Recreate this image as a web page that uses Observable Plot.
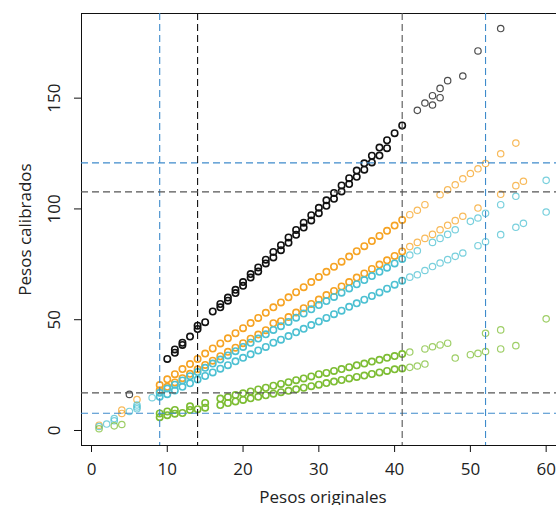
<!DOCTYPE html>
<html><head><meta charset="utf-8">
<script src="https://cdn.jsdelivr.net/npm/d3@7"></script>
<script src="https://cdn.jsdelivr.net/npm/@observablehq/plot@0.6"></script>
<style>
html,body{margin:0;padding:0;background:#fff;overflow:hidden;}
#chart{width:556px;height:505px;overflow:hidden;}
#chart svg{max-width:none !important;width:564px !important;height:505px !important;}
</style></head><body><div id="chart"></div>
<script>
// ---- axis ticks & titles
const xTicks = [0, 10, 20, 30, 40, 50, 60];
const yTicks = [0, 50, 100, 150];
const xTitle = "Pesos originales";
const yTitle = "Pesos calibrados";

// ---- reference lines (dashed)
const vLines = [9, 14, 41, 52];
const vKinds = ["azul", "negro", "gris", "azul"];
const hLines = [7.8, 17.0, 107.7, 120.8];
const hKinds = ["azul", "gris", "gris", "azul"];

// ---- series
const negroAX = [5, 10, 11, 12, 13, 14, 15, 16, 17, 18, 19, 20, 21, 22, 23, 24, 25, 26, 27, 28, 29, 30, 31, 32, 33, 34, 35, 36, 37, 38, 39, 40, 41, 43, 44, 45, 46, 47, 49, 51, 54];
const negroAY = [16.3, 32.3, 36.6, 39.6, 42.4, 47.3, 48.9, 53.7, 57.1, 60.0, 63.5, 67.0, 70.6, 73.6, 77.1, 80.6, 83.6, 87.1, 90.5, 93.8, 97.2, 100.5, 103.9, 107.2, 110.6, 113.9, 117.3, 120.6, 124.0, 127.7, 131.0, 134.2, 137.7, 144.5, 147.8, 151.1, 154.4, 157.9, 160.0, 171.3, 181.4];
const negroBX = [11, 12, 14, 17, 18, 19, 20, 21, 22, 23, 24, 25, 26, 27, 28, 29, 30, 31, 32, 33, 34, 35, 36, 37, 38, 39, 45, 46];
const negroBY = [35.1, 38.6, 45.8, 55.6, 58.6, 62.0, 65.3, 69.0, 71.8, 75.4, 78.1, 81.4, 84.7, 88.3, 91.6, 94.8, 98.1, 101.4, 104.6, 107.9, 111.2, 114.5, 117.7, 121.0, 124.1, 127.4, 146.9, 150.2];

const naranjaAX = [1, 4, 6, 9, 10, 11, 12, 13, 14, 15, 16, 17, 18, 19, 20, 21, 22, 23, 24, 25, 26, 27, 28, 29, 30, 31, 32, 33, 34, 35, 36, 37, 38, 39, 40, 41, 42, 43, 44, 46, 47, 48, 49, 50, 51, 52, 54, 56];
const naranjaAY = [2.4, 9.2, 14.0, 20.5, 23.1, 25.4, 27.7, 30.0, 32.3, 34.7, 37.0, 39.3, 41.6, 43.9, 46.2, 48.5, 50.8, 53.1, 55.6, 57.8, 60.1, 62.4, 64.7, 67.0, 69.3, 71.6, 73.9, 76.2, 78.5, 80.9, 83.2, 85.5, 87.8, 90.1, 92.5, 95.0, 97.4, 99.4, 101.9, 106.4, 108.6, 110.9, 113.6, 116.0, 118.1, 120.5, 124.9, 129.7];
const naranjaBX = [4, 9, 10, 11, 12, 13, 14, 15, 16, 17, 18, 19, 20, 21, 22, 23, 24, 25, 26, 27, 28, 29, 30, 31, 32, 33, 34, 35, 36, 37, 38, 39, 40, 41, 42, 43, 44, 45, 46, 47, 48, 49, 51, 54, 56, 57];
const naranjaBY = [7.7, 18.2, 19.7, 21.7, 23.6, 25.6, 27.6, 29.6, 31.5, 33.5, 35.5, 37.4, 39.4, 41.4, 43.3, 45.3, 48.4, 49.3, 51.2, 53.2, 55.2, 57.1, 59.1, 61.1, 63.0, 65.0, 67.0, 69.0, 70.9, 72.9, 74.9, 76.8, 78.8, 80.8, 83.0, 84.9, 86.7, 88.5, 90.6, 92.6, 94.7, 96.7, 100.4, 106.6, 110.5, 112.5];

const cianAX = [1, 2, 3, 6, 8, 9, 10, 11, 12, 13, 14, 15, 16, 17, 18, 19, 20, 21, 22, 23, 24, 25, 26, 27, 28, 29, 30, 31, 32, 33, 34, 35, 36, 37, 38, 39, 40, 41, 42, 43, 45, 46, 47, 48, 50, 51, 52, 54, 56, 60];
const cianAY = [1.8, 2.9, 5.4, 11.5, 14.8, 17.0, 18.9, 20.7, 22.6, 24.5, 26.4, 28.3, 30.2, 32.0, 33.9, 35.8, 37.7, 39.6, 41.5, 43.4, 45.4, 47.1, 49.0, 50.9, 52.8, 54.7, 56.6, 58.4, 60.3, 62.2, 64.1, 66.0, 67.9, 69.7, 71.6, 73.5, 75.4, 77.4, 79.2, 81.1, 84.9, 86.7, 88.5, 90.6, 94.4, 95.9, 98.0, 101.9, 105.7, 112.9];
const cianBX = [3, 5, 6, 6, 9, 10, 11, 12, 13, 14, 15, 16, 17, 18, 19, 20, 21, 22, 23, 24, 25, 26, 27, 28, 29, 30, 31, 32, 33, 34, 35, 36, 37, 38, 39, 40, 41, 42, 43, 44, 45, 46, 47, 48, 49, 51, 52, 54, 56, 57, 60];
const cianBY = [4.4, 8.6, 10.6, 9.8, 15.2, 16.4, 18.0, 19.7, 21.3, 23.0, 24.6, 26.2, 27.9, 29.5, 31.2, 32.8, 34.4, 36.1, 37.7, 39.6, 41.0, 42.6, 44.3, 45.9, 47.6, 49.2, 50.8, 52.5, 54.1, 55.8, 57.4, 59.0, 60.7, 62.3, 64.0, 65.8, 67.6, 69.2, 70.3, 72.2, 74.0, 75.6, 77.1, 78.6, 80.1, 83.4, 85.2, 88.4, 91.7, 93.5, 98.6];

const verdeAX = [9, 10, 11, 13, 15, 17, 18, 19, 20, 21, 22, 23, 24, 25, 26, 27, 28, 29, 30, 31, 32, 33, 34, 35, 36, 37, 38, 39, 40, 41, 42, 44, 45, 46, 47, 52, 54, 60];
const verdeAY = [7.7, 8.6, 9.3, 10.9, 12.4, 14.4, 15.1, 16.0, 16.8, 17.6, 18.5, 19.3, 20.2, 21.0, 21.8, 22.7, 23.5, 24.4, 25.4, 26.0, 26.9, 27.7, 28.6, 29.4, 30.2, 31.1, 31.9, 32.8, 33.6, 34.5, 35.4, 36.8, 37.8, 38.6, 39.4, 43.9, 45.4, 50.4];
const verdeBX = [1, 3, 4, 9, 10, 11, 12, 13, 14, 15, 17, 18, 19, 20, 21, 22, 23, 24, 25, 26, 27, 28, 29, 30, 31, 32, 33, 34, 35, 36, 37, 38, 39, 40, 41, 42, 43, 44, 48, 50, 51, 52, 54, 56];
const verdeBY = [0.8, 2.1, 2.7, 6.0, 6.9, 7.6, 7.9, 9.3, 9.6, 10.3, 11.5, 12.4, 13.1, 13.8, 14.5, 15.2, 15.9, 16.6, 17.3, 17.9, 18.6, 19.3, 20.0, 20.7, 21.4, 22.1, 22.8, 23.5, 24.2, 24.8, 25.5, 26.2, 26.9, 27.6, 28.0, 28.5, 29.1, 30.0, 32.7, 34.2, 34.8, 35.6, 36.8, 38.3];

const groupNames = ["negro", "naranja", "cian", "verde"];
const groupColors = ["#111111", "#f6a323", "#4cc0d2", "#7dbd33"];
const kindColors = {azul: "#3f8bcb", negro: "#111111", gris: "#555555"};

const seriesList = [
  {g: "negro", xs: negroAX, ys: negroAY}, {g: "negro", xs: negroBX, ys: negroBY},
  {g: "naranja", xs: naranjaAX, ys: naranjaAY}, {g: "naranja", xs: naranjaBX, ys: naranjaBY},
  {g: "cian", xs: cianAX, ys: cianAY}, {g: "cian", xs: cianBX, ys: cianBY},
  {g: "verde", xs: verdeAX, ys: verdeAY}, {g: "verde", xs: verdeBX, ys: verdeBY}
];
const rows = seriesList.flatMap(s => s.xs.map((x, i) => ({x, y: s.ys[i], g: s.g})));

const font = "Open Sans, Noto Sans, sans-serif";
const dash = "7,4";
const dense = d => d.x >= 9 && d.x <= 41;

const marks = [
  Plot.frame({stroke: "#111", strokeWidth: 1}),
  Plot.dot(rows, {x: "x", y: "y", r: 3.2, stroke: "g", fill: "none",
    strokeWidth: d => dense(d) ? 1.6 : 1.2,
    strokeOpacity: d => dense(d) ? 1 : 0.75}),
];
for (const k of Object.keys(kindColors)) {
  const hv = hLines.filter((v, i) => hKinds[i] === k);
  const vv = vLines.filter((v, i) => vKinds[i] === k);
  if (hv.length) marks.push(Plot.ruleY(hv, {y: d => d, stroke: kindColors[k], strokeDasharray: dash, strokeWidth: 1.1}));
  if (vv.length) marks.push(Plot.ruleX(vv, {x: d => d, stroke: kindColors[k], strokeDasharray: dash, strokeWidth: 1.1}));
}
marks.push(
  Plot.axisX(xTicks, {tickSize: 7, tickPadding: 10, fontSize: 17, label: null, stroke: "#111", fill: "#222"}),
  Plot.axisY(yTicks, {tickSize: 7, tickFormat: () => "", label: null, stroke: "#111"}),
  Plot.text(yTicks, {y: d => d, text: d => String(d), frameAnchor: "left", dx: -27, rotate: -90,
    textAnchor: "middle", lineAnchor: "middle", fontSize: 17, fill: "#222"}),
  Plot.text([yTitle], {frameAnchor: "left", dx: -56, rotate: -90, textAnchor: "middle", lineAnchor: "middle", fontSize: 17, fill: "#222"}),
  Plot.text([xTitle], {frameAnchor: "bottom", dy: 52, textAnchor: "middle", lineAnchor: "middle", fontSize: 17, fill: "#222"})
);

const chart = Plot.plot({
  width: 564, height: 505,
  marginLeft: 81, marginRight: 0, marginTop: 13, marginBottom: 60,
  style: {fontFamily: font, fontSize: "17px", background: "#fff", overflow: "hidden", maxWidth: "none"},
  x: {domain: [-1.32, 62.42], axis: null},
  y: {domain: [-6.77, 188.2], axis: null},
  color: {domain: groupNames, range: groupColors},
  opacity: {type: "identity"},
  marks
});
document.getElementById("chart").appendChild(chart);
</script></body></html>
